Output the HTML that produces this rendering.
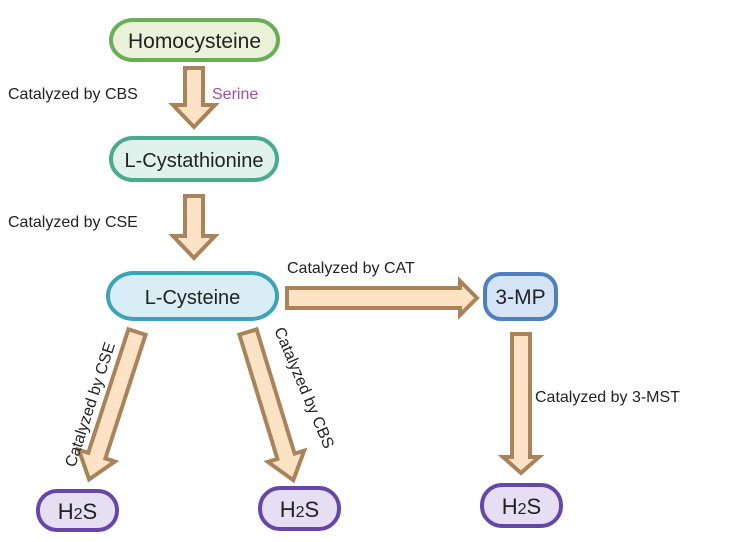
<!DOCTYPE html>
<html><head><meta charset="utf-8"><style>
html,body{margin:0;padding:0;background:#fff;}
svg{display:block;}
text{font-family:"Liberation Sans",sans-serif;}
</style></head><body>
<svg width="739" height="542" viewBox="0 0 739 542" xmlns="http://www.w3.org/2000/svg">
<g stroke="#a9845a" stroke-width="4" fill="#fde3c6" stroke-linejoin="miter">
<!-- arrow 1 -->
<polygon points="185,68 203,68 203,105 215,105 194,127 173,105 185,105"/>
<!-- arrow 2 -->
<polygon points="185,196 203,196 203,236 215,236 194,258 173,236 185,236"/>
<!-- horizontal -->
<polygon points="287,288 460,288 460,281 477,298 460,315 460,308 287,308"/>
<!-- right vertical -->
<polygon points="512,334 530,334 530,457 539,457 521,473 503,457 512,457"/>
<!-- diagonal left -->
<g transform="translate(137,332) rotate(18)">
<polygon points="-9,0 9,0 9,130 19,130 0,155 -19,130 -9,130"/>
</g>
<!-- diagonal right -->
<g transform="translate(248,332) rotate(-17)">
<polygon points="-9,0 9,0 9,130 19,130 0,155 -19,130 -9,130"/>
</g>
</g>
<!-- nodes -->
<rect x="111" y="20" width="167" height="40" rx="22" ry="20" fill="#eaf3da" stroke="#6aae55" stroke-width="4"/>
<text x="194.5" y="48" font-size="21" text-anchor="middle" fill="#222">Homocysteine</text>
<rect x="111" y="138" width="166" height="42" rx="22" ry="21" fill="#dff2ec" stroke="#4aaa8c" stroke-width="4"/>
<text x="194" y="167" font-size="20" text-anchor="middle" fill="#222">L-Cystathionine</text>
<rect x="108" y="273" width="169" height="46" rx="26" ry="23" fill="#d8eef4" stroke="#3da3b7" stroke-width="4"/>
<text x="192.5" y="304" font-size="20" text-anchor="middle" fill="#222">L-Cysteine</text>
<rect x="485" y="274" width="71" height="45" rx="16" ry="16" fill="#d4e4f6" stroke="#4e7fc0" stroke-width="4"/>
<text x="520.5" y="304" font-size="21" text-anchor="middle" fill="#222">3-MP</text>
<g fill="#e6def2" stroke="#6646a8" stroke-width="4">
<rect x="38" y="491" width="79" height="39" rx="19" ry="19"/>
<rect x="260" y="488" width="79" height="41" rx="20" ry="20"/>
<rect x="482" y="485" width="79" height="41" rx="20" ry="20"/>
</g>
<g font-size="22" text-anchor="middle" fill="#222">
<text x="77.5" y="519">H<tspan font-size="16">2</tspan>S</text>
<text x="299.5" y="517">H<tspan font-size="16">2</tspan>S</text>
<text x="521.5" y="514">H<tspan font-size="16">2</tspan>S</text>
</g>
<!-- labels -->
<g font-size="16" fill="#222">
<text x="8" y="99">Catalyzed by CBS</text>
<text x="212" y="99" fill="#a24ea2">Serine</text>
<text x="8" y="227">Catalyzed by CSE</text>
<text x="287" y="273">Catalyzed by CAT</text>
<text x="535" y="402">Catalyzed by 3-MST</text>
<text transform="translate(75,468) rotate(-72)">Catalyzed by CSE</text>
<text transform="translate(274,330) rotate(67)">Catalyzed by CBS</text>
</g>
</svg>
</body></html>
